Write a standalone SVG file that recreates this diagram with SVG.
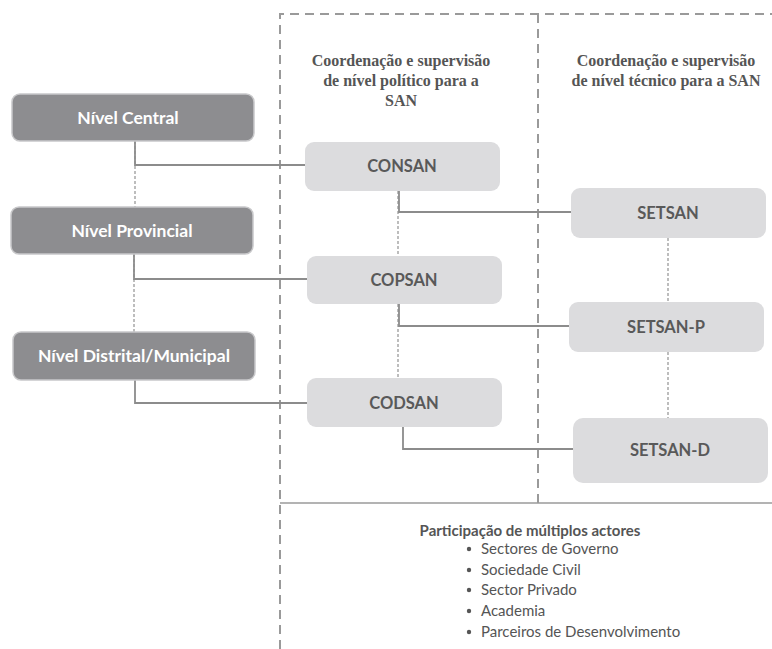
<svg xmlns="http://www.w3.org/2000/svg" width="772" height="649" viewBox="0 0 772 649">
<style>
.frame{fill:none;stroke:#9a9a9a;stroke-width:2;stroke-dasharray:9 6}
.sep{fill:none;stroke:#9a9a9a;stroke-width:1.5}
.link{fill:none;stroke:#8c8c8c;stroke-width:1.8}
.dash{fill:none;stroke:#9a9a9a;stroke-width:1.3;stroke-dasharray:3 2}
.dark{fill:#8d8d90;stroke:#c8c8ca;stroke-width:1.5}
.light{fill:#dcdcde;stroke:none}
.dt{font-family:Lato,"Liberation Sans",Arial,sans-serif;font-weight:bold;font-size:17.5px;fill:#ffffff;text-anchor:middle}
.lt{font-family:Lato,"Liberation Sans",Arial,sans-serif;font-weight:bold;font-size:16.5px;fill:#595959;text-anchor:middle}
.hd{font-family:"Liberation Serif","Times New Roman",serif;font-weight:bold;font-size:16px;fill:#555555;text-anchor:middle}
.pt{font-family:Lato,"Liberation Sans",Arial,sans-serif;font-size:15px;fill:#555555}
</style>
<g id="frame">
<path class="frame" d="M280,649 V14 H772"/>
<path class="frame" d="M538,14 V503"/>
<path class="sep" d="M280,503 H772"/>
</g>
<g id="connectors">
<path class="dash" d="M135,141 V207"/>
<path class="dash" d="M134,254 V332"/>
<path class="link" d="M135,141 V165 H305"/>
<path class="link" d="M134,254 V279 H307"/>
<path class="link" d="M135,380 V403 H307"/>
<path class="dash" d="M398,191 V256"/>
<path class="dash" d="M398,304 V378"/>
<path class="link" d="M399,191 V212 H571"/>
<path class="link" d="M399,304 V326 H569"/>
<path class="link" d="M403,427 V449 H573"/>
<path class="dash" d="M668,238 V302"/>
<path class="dash" d="M668,352 V418"/>
</g>
<g id="header-politico">
<text class="hd" x="401" y="66">Coordenação e supervisão</text>
<text class="hd" x="401" y="86">de nível político para a</text>
<text class="hd" x="401" y="106">SAN</text>
</g>
<g id="header-tecnico">
<text class="hd" x="666" y="66">Coordenação e supervisão</text>
<text class="hd" x="666" y="86">de nível técnico para a SAN</text>
</g>
<g id="nivel-central">
<rect class="dark" x="12" y="94" width="242" height="47" rx="8"/>
<text class="dt" x="128" y="124">Nível Central</text>
</g>
<g id="nivel-provincial">
<rect class="dark" x="11" y="207" width="242" height="47" rx="8"/>
<text class="dt" x="132" y="237">Nível Provincial</text>
</g>
<g id="nivel-distrital">
<rect class="dark" x="13" y="332" width="242" height="48" rx="8"/>
<text class="dt" x="134" y="362">Nível Distrital/Municipal</text>
</g>
<g id="consan">
<rect class="light" x="305" y="142" width="195" height="49" rx="9"/>
<text class="lt" x="402" y="172">CONSAN</text>
</g>
<g id="copsan">
<rect class="light" x="307" y="256" width="195" height="48" rx="9"/>
<text class="lt" x="404" y="286">COPSAN</text>
</g>
<g id="codsan">
<rect class="light" x="307" y="378" width="195" height="49" rx="9"/>
<text class="lt" x="404" y="409">CODSAN</text>
</g>
<g id="setsan">
<rect class="light" x="571" y="188" width="195" height="50" rx="9"/>
<text class="lt" x="668" y="219">SETSAN</text>
</g>
<g id="setsan-p">
<rect class="light" x="569" y="302" width="195" height="50" rx="9"/>
<text class="lt" x="666" y="333">SETSAN-P</text>
</g>
<g id="setsan-d">
<rect class="light" x="573" y="418" width="195" height="65" rx="10"/>
<text class="lt" x="670" y="456">SETSAN-D</text>
</g>
<g id="participacao">
<text class="pt" x="530" y="536" font-weight="bold" text-anchor="middle">Participação de múltiplos actores</text>
<g fill="#555555">
<circle cx="469" cy="549" r="2.2"/>
<circle cx="469" cy="570" r="2.2"/>
<circle cx="469" cy="590" r="2.2"/>
<circle cx="469" cy="611" r="2.2"/>
<circle cx="469" cy="632" r="2.2"/>
</g>
<text class="pt" x="481" y="554">Sectores de Governo</text>
<text class="pt" x="481" y="575">Sociedade Civil</text>
<text class="pt" x="481" y="595">Sector Privado</text>
<text class="pt" x="481" y="616">Academia</text>
<text class="pt" x="481" y="637">Parceiros de Desenvolvimento</text>
</g>
</svg>
